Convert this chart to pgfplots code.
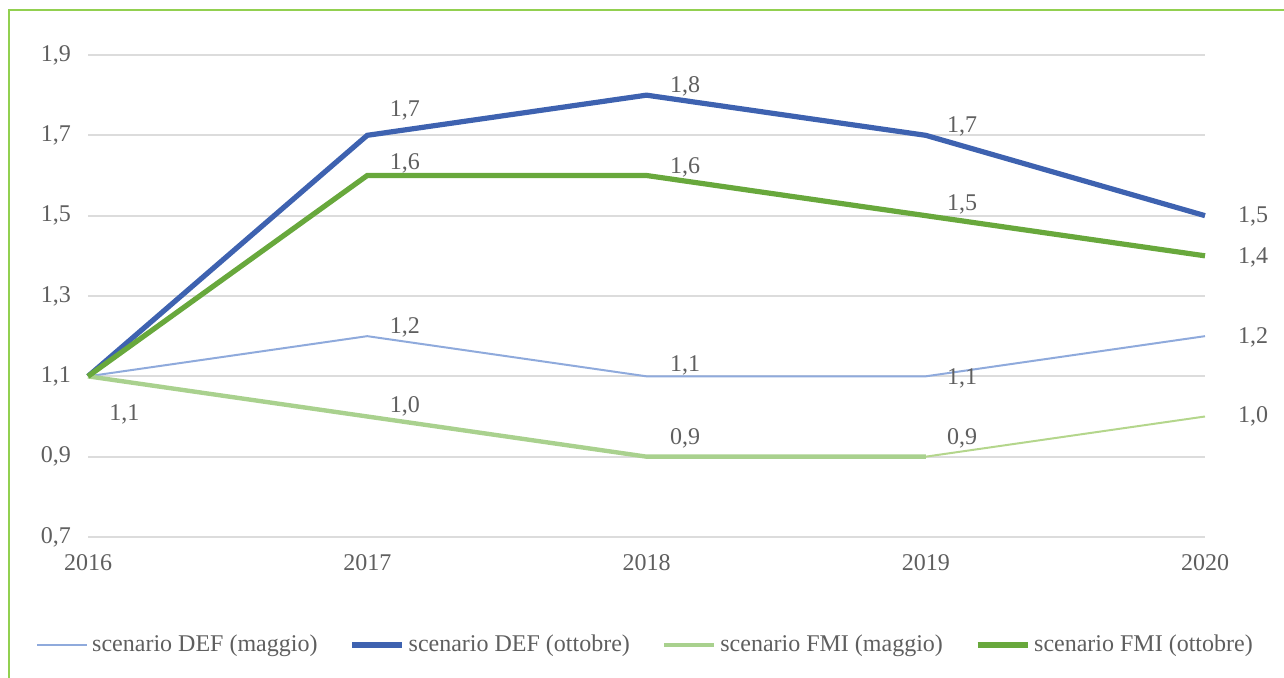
\documentclass[border=0pt]{standalone}
\usepackage{pgfplots}
\pgfplotsset{compat=1.18}
\usepackage{fontspec}
\setmainfont{Liberation Serif}
\definecolor{txt}{RGB}{95,95,95}
\definecolor{gridc}{RGB}{220,220,220}
\definecolor{defm}{RGB}{143,170,220}
\definecolor{defo}{RGB}{62,98,176}
\definecolor{fmim}{RGB}{169,209,142}
\definecolor{fmim2}{RGB}{180,214,140}
\definecolor{fmio}{RGB}{104,168,60}
\definecolor{frame}{RGB}{146,208,80}
\begin{document}
\begin{tikzpicture}
\useasboundingbox (0,0) rectangle (642pt,339pt);
\draw[frame, line width=1.2pt] (4.5pt,0) -- (4.5pt,334pt) -- (642pt,334pt);
\begin{axis}[
  at={(44pt,70.5pt)}, anchor=south west,
  scale only axis, width=558.5pt, height=241pt,
  xmin=2016, xmax=2020, ymin=0.7, ymax=1.9,
  xtick={2016,2017,2018,2019,2020},
  xticklabels={2016,2017,2018,2019,2020},
  ytick={0.7,0.9,1.1,1.3,1.5,1.7,1.9},
  yticklabels={{0,7},{0,9},{1,1},{1,3},{1,5},{1,7},{1,9}},
  axis line style={draw=none},
  major tick length=0pt,
  ymajorgrids, grid style={gridc, line width=0.9pt},
  tick label style={font=\fontsize{12}{14}\selectfont, text=txt},
  yticklabel style={xshift=-5pt},
  xticklabel style={yshift=-5pt},
  clip=false,
  legend columns=4,
  legend style={at={(0.5,-0.224)}, anchor=center, draw=none, fill=none,
    font=\fontsize{12}{14}\selectfont, text=txt,
    /tikz/every even column/.append style={column sep=14pt}},
  legend image code/.code={\draw[#1] (0pt,0pt) -- (25pt,0pt);},
]
\addplot[defm, line width=1pt] coordinates {(2016,1.1)(2017,1.2)(2018,1.1)(2019,1.1)(2020,1.2)};
\addlegendentry{scenario DEF (maggio)}
\addplot[defo, line width=2.6pt] coordinates {(2016,1.1)(2017,1.7)(2018,1.8)(2019,1.7)(2020,1.5)};
\addlegendentry{scenario DEF (ottobre)}
\addplot[fmim, line width=2.2pt] coordinates {(2016,1.1)(2017,1.0)(2018,0.9)(2019,0.9)};
\addlegendentry{scenario FMI (maggio)}
\addplot[fmio, line width=2.6pt] coordinates {(2016,1.1)(2017,1.6)(2018,1.6)(2019,1.5)(2020,1.4)};
\addlegendentry{scenario FMI (ottobre)}
\addplot[fmim2, line width=1pt, forget plot] coordinates {(2019,0.9)(2020,1.0)};
\begin{scope}[every node/.style={font=\fontsize{12}{14}\selectfont, text=txt}]
\node at (axis cs:2017.135,1.763) {1,7};
\node at (axis cs:2018.138,1.823) {1,8};
\node at (axis cs:2019.13,1.723) {1,7};
\node at (axis cs:2020.172,1.499) {1,5};
\node at (axis cs:2017.135,1.629) {1,6};
\node at (axis cs:2018.138,1.619) {1,6};
\node at (axis cs:2019.13,1.527) {1,5};
\node at (axis cs:2020.172,1.397) {1,4};
\node at (axis cs:2017.135,1.223) {1,2};
\node at (axis cs:2018.138,1.126) {1,1};
\node at (axis cs:2019.13,1.096) {1,1};
\node at (axis cs:2020.172,1.198) {1,2};
\node at (axis cs:2016.13,1.004) {1,1};
\node at (axis cs:2017.135,1.024) {1,0};
\node at (axis cs:2018.138,0.946) {0,9};
\node at (axis cs:2019.13,0.946) {0,9};
\node at (axis cs:2020.172,1.001) {1,0};
\end{scope}
\end{axis}
\end{tikzpicture}
\end{document}
